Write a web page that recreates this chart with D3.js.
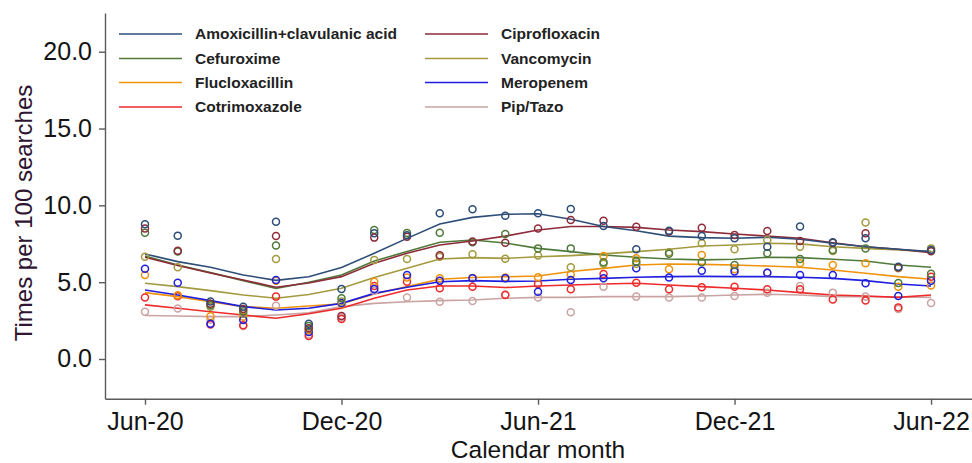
<!DOCTYPE html>
<html>
<head>
<meta charset="utf-8">
<script src="https://cdn.jsdelivr.net/npm/d3@7"></script>
<style>
  html, body { margin: 0; padding: 0; background: #fff; }
  svg { display: block; font-family: "Liberation Sans", Arial, sans-serif; }
</style>
</head>
<body>
<svg id="chart" width="972" height="463"></svg>
<script>
// ---- Data ----
const months = d3.range(25); // 0 = Jun-20 ... 24 = Jun-22
const tickMonths = [0, 6, 12, 18, 24];
const tickLabels = ["Jun-20", "Dec-20", "Jun-21", "Dec-21", "Jun-22"];
const yTicks = [0, 5, 10, 15, 20];

const seriesNames = ["Amoxicillin+clavulanic acid", "Cefuroxime", "Flucloxacillin", "Cotrimoxazole",
                     "Ciprofloxacin", "Vancomycin", "Meropenem", "Pip/Tazo"];
const seriesColors = ["#2d4e78", "#4f7a3a", "#f0920a", "#ee2a2a", "#8e2b3a", "#a39a3f", "#1f1fe0", "#caa3a3"];

// Monthly observed values (circles)
const amoxPts   = [8.77, 8.03, 3.75, 3.40, 8.94, 2.30, 4.55, 8.18, 8.05, 9.48, 9.74, 9.33, 9.48, 9.77, 8.66, 7.14, 8.35, 8.00, 7.86, 7.31, 8.62, 7.60, 7.86, 6.00, 7.10];
const cefurPts  = [8.22, 7.00, 3.50, 3.10, 7.38, 2.15, 3.95, 8.40, 8.20, 8.22, 7.60, 8.14, 7.20, 7.20, 6.30, 6.35, 6.85, 6.29, 6.12, 6.88, 6.51, 7.10, 7.20, 4.95, 5.55];
const flucPts   = [5.47, 4.15, 2.78, 2.75, 5.10, 1.85, 3.60, 5.03, 5.30, 5.25, 5.28, 5.30, 5.32, 5.50, 6.70, 6.55, 5.84, 6.77, 5.84, 5.62, 6.23, 6.12, 6.23, 4.70, 4.78];
const cotrimPts = [4.01, 4.08, 2.25, 2.20, 4.06, 1.50, 2.60, 4.75, 5.03, 4.60, 4.71, 4.17, 4.88, 4.54, 5.53, 4.97, 4.54, 4.67, 4.71, 4.54, 4.54, 3.88, 3.80, 3.36, 5.35];
const ciproPts  = [8.50, 7.05, 3.60, 3.25, 8.00, 2.00, 2.80, 7.90, 7.95, 6.75, 7.64, 7.57, 8.50, 9.05, 9.00, 8.60, 8.30, 8.55, 8.07, 8.33, 7.68, 7.57, 8.18, 5.95, 7.02];
const vancoPts  = [6.66, 5.97, 3.40, 2.95, 6.51, 1.95, 3.75, 6.45, 6.51, 6.65, 6.81, 6.53, 6.73, 5.97, 6.20, 6.20, 6.95, 7.53, 7.14, 7.75, 7.31, 7.03, 8.88, 5.90, 7.20];
const meroPts   = [5.88, 4.97, 2.30, 2.54, 5.14, 1.75, 3.65, 4.55, 5.47, 5.10, 5.25, 5.25, 4.38, 5.14, 5.25, 5.90, 5.30, 5.75, 5.70, 5.62, 5.47, 5.47, 4.93, 4.10, 5.10];
const pipPts    = [3.08, 3.28, 2.55, 2.15, 3.47, 1.60, 2.70, 4.45, 4.01, 3.73, 3.78, 4.20, 4.01, 3.04, 4.71, 4.06, 4.01, 4.01, 4.10, 4.32, 4.75, 4.32, 4.06, 3.25, 3.65];

// Smoothed trend values (lines)
const amoxFit   = [6.84, 6.34, 5.97, 5.47, 5.12, 5.35, 5.95, 6.88, 7.85, 8.79, 9.22, 9.42, 9.45, 9.10, 8.62, 8.35, 8.00, 7.90, 7.86, 7.92, 7.79, 7.53, 7.31, 7.14, 6.99];
const cefurFit  = [6.70, 6.12, 5.62, 5.10, 4.60, 5.00, 5.47, 6.38, 6.99, 7.60, 7.75, 7.55, 7.20, 6.99, 6.77, 6.62, 6.51, 6.45, 6.49, 6.62, 6.60, 6.49, 6.38, 6.12, 5.97];
const flucFit   = [4.32, 4.06, 3.73, 3.41, 3.30, 3.45, 3.60, 4.23, 4.71, 5.19, 5.30, 5.35, 5.40, 5.69, 5.90, 6.12, 6.18, 6.16, 6.12, 6.05, 5.97, 5.79, 5.58, 5.36, 5.19];
const cotrimFit = [3.52, 3.30, 3.08, 2.86, 2.65, 2.95, 3.30, 3.95, 4.49, 4.75, 4.75, 4.65, 4.75, 4.82, 4.88, 4.93, 4.82, 4.71, 4.60, 4.49, 4.32, 4.17, 4.10, 4.01, 4.17];
const ciproFit  = [6.62, 6.08, 5.60, 5.14, 4.67, 4.95, 5.36, 6.23, 6.88, 7.42, 7.68, 8.00, 8.40, 8.62, 8.62, 8.57, 8.40, 8.29, 8.14, 8.00, 7.86, 7.57, 7.31, 7.14, 6.92];
const vancoFit  = [4.93, 4.71, 4.45, 4.17, 3.95, 4.20, 4.60, 5.30, 5.90, 6.51, 6.60, 6.55, 6.66, 6.73, 6.84, 6.99, 7.14, 7.35, 7.42, 7.53, 7.49, 7.31, 7.20, 7.10, 6.99];
const meroFit   = [4.49, 4.17, 3.80, 3.41, 3.19, 3.30, 3.62, 4.27, 4.67, 5.03, 5.10, 5.05, 5.08, 5.19, 5.25, 5.32, 5.36, 5.38, 5.36, 5.36, 5.32, 5.25, 5.10, 4.88, 4.75];
const pipFit    = [2.83, 2.80, 2.76, 2.76, 2.86, 3.00, 3.41, 3.62, 3.73, 3.80, 3.84, 3.95, 4.01, 4.01, 4.06, 4.06, 4.06, 4.10, 4.17, 4.21, 4.17, 4.06, 4.06, 4.04, 4.01];

const pointSets = [amoxPts, cefurPts, flucPts, cotrimPts, ciproPts, vancoPts, meroPts, pipPts];
const fitSets   = [amoxFit, cefurFit, flucFit, cotrimFit, ciproFit, vancoFit, meroFit, pipFit];

// ---- Drawing ----
const svg = d3.select("#chart");
const x = d3.scaleLinear().domain([-1.221, 25.25]).range([105, 972]);
const y = d3.scaleLinear().domain([-2.584, 22.52]).range([398.7, 13]);

const series = seriesNames.map((name, k) => ({
  name, color: seriesColors[k],
  pts: months.map(m => ({m, v: pointSets[k][m]})),
  fit: months.map(m => ({m, v: fitSets[k][m]}))
}));

// draw order: lighter/lower series first
const drawOrder = [7, 3, 2, 6, 5, 1, 4, 0];

const line = d3.line().x(d => x(d.m)).y(d => y(d.v));
const gLines = svg.append("g");
drawOrder.forEach(k => {
  gLines.append("path")
    .attr("d", line(series[k].fit))
    .attr("fill", "none")
    .attr("stroke", series[k].color)
    .attr("stroke-width", 1.6);
});

const gPts = svg.append("g");
drawOrder.forEach(k => {
  gPts.selectAll(null).data(series[k].pts).enter().append("circle")
    .attr("cx", d => x(d.m))
    .attr("cy", d => y(d.v))
    .attr("r", 3.5)
    .attr("fill", "none")
    .attr("stroke", series[k].color)
    .attr("stroke-width", 1.5);
});

// Axes
const axisColor = "#5a5a5a";
const yAxis = svg.append("g")
  .attr("transform", "translate(105,0)")
  .call(d3.axisLeft(y).tickValues(yTicks).tickFormat(d3.format(".1f")).tickSize(6).tickPadding(7).tickSizeOuter(0));
const xAxis = svg.append("g")
  .attr("transform", "translate(0,398.7)")
  .call(d3.axisBottom(x).tickValues(tickMonths).tickFormat((d, i) => tickLabels[i]).tickSize(6).tickPadding(8).tickSizeOuter(0));

[yAxis, xAxis].forEach(g => {
  g.select(".domain").attr("stroke", axisColor).attr("stroke-width", 1.4);
  g.selectAll(".tick line").attr("stroke", axisColor).attr("stroke-width", 1.4);
  g.selectAll(".tick text").attr("fill", "#141414").attr("font-size", 25)
    .attr("font-family", "'Liberation Sans', Arial, sans-serif");
});

// Axis titles
svg.append("text")
  .attr("x", 538).attr("y", 458)
  .attr("text-anchor", "middle")
  .attr("font-size", 24.5)
  .attr("fill", "#141414")
  .text("Calendar month");

svg.append("text")
  .attr("transform", "translate(32,213) rotate(-90)")
  .attr("text-anchor", "middle")
  .attr("font-size", 24)
  .attr("fill", "#2e1530")
  .text("Times per 100 searches");

// Legend
const legend = svg.append("g");
const colX = [119, 425];
const rowY = [34, 58.5, 82.5, 107];
series.forEach((s, k) => {
  const c = Math.floor(k / 4), r = k % 4;
  const g = legend.append("g");
  g.append("line")
    .attr("x1", colX[c]).attr("x2", colX[c] + 63)
    .attr("y1", rowY[r]).attr("y2", rowY[r])
    .attr("stroke", s.color).attr("stroke-width", 1.6);
  g.append("text")
    .attr("x", colX[c] + 76).attr("y", rowY[r])
    .attr("dy", "0.35em")
    .attr("font-size", 15.5)
    .attr("font-weight", "bold")
    .attr("fill", "#222")
    .text(s.name);
});
</script>
</body>
</html>
